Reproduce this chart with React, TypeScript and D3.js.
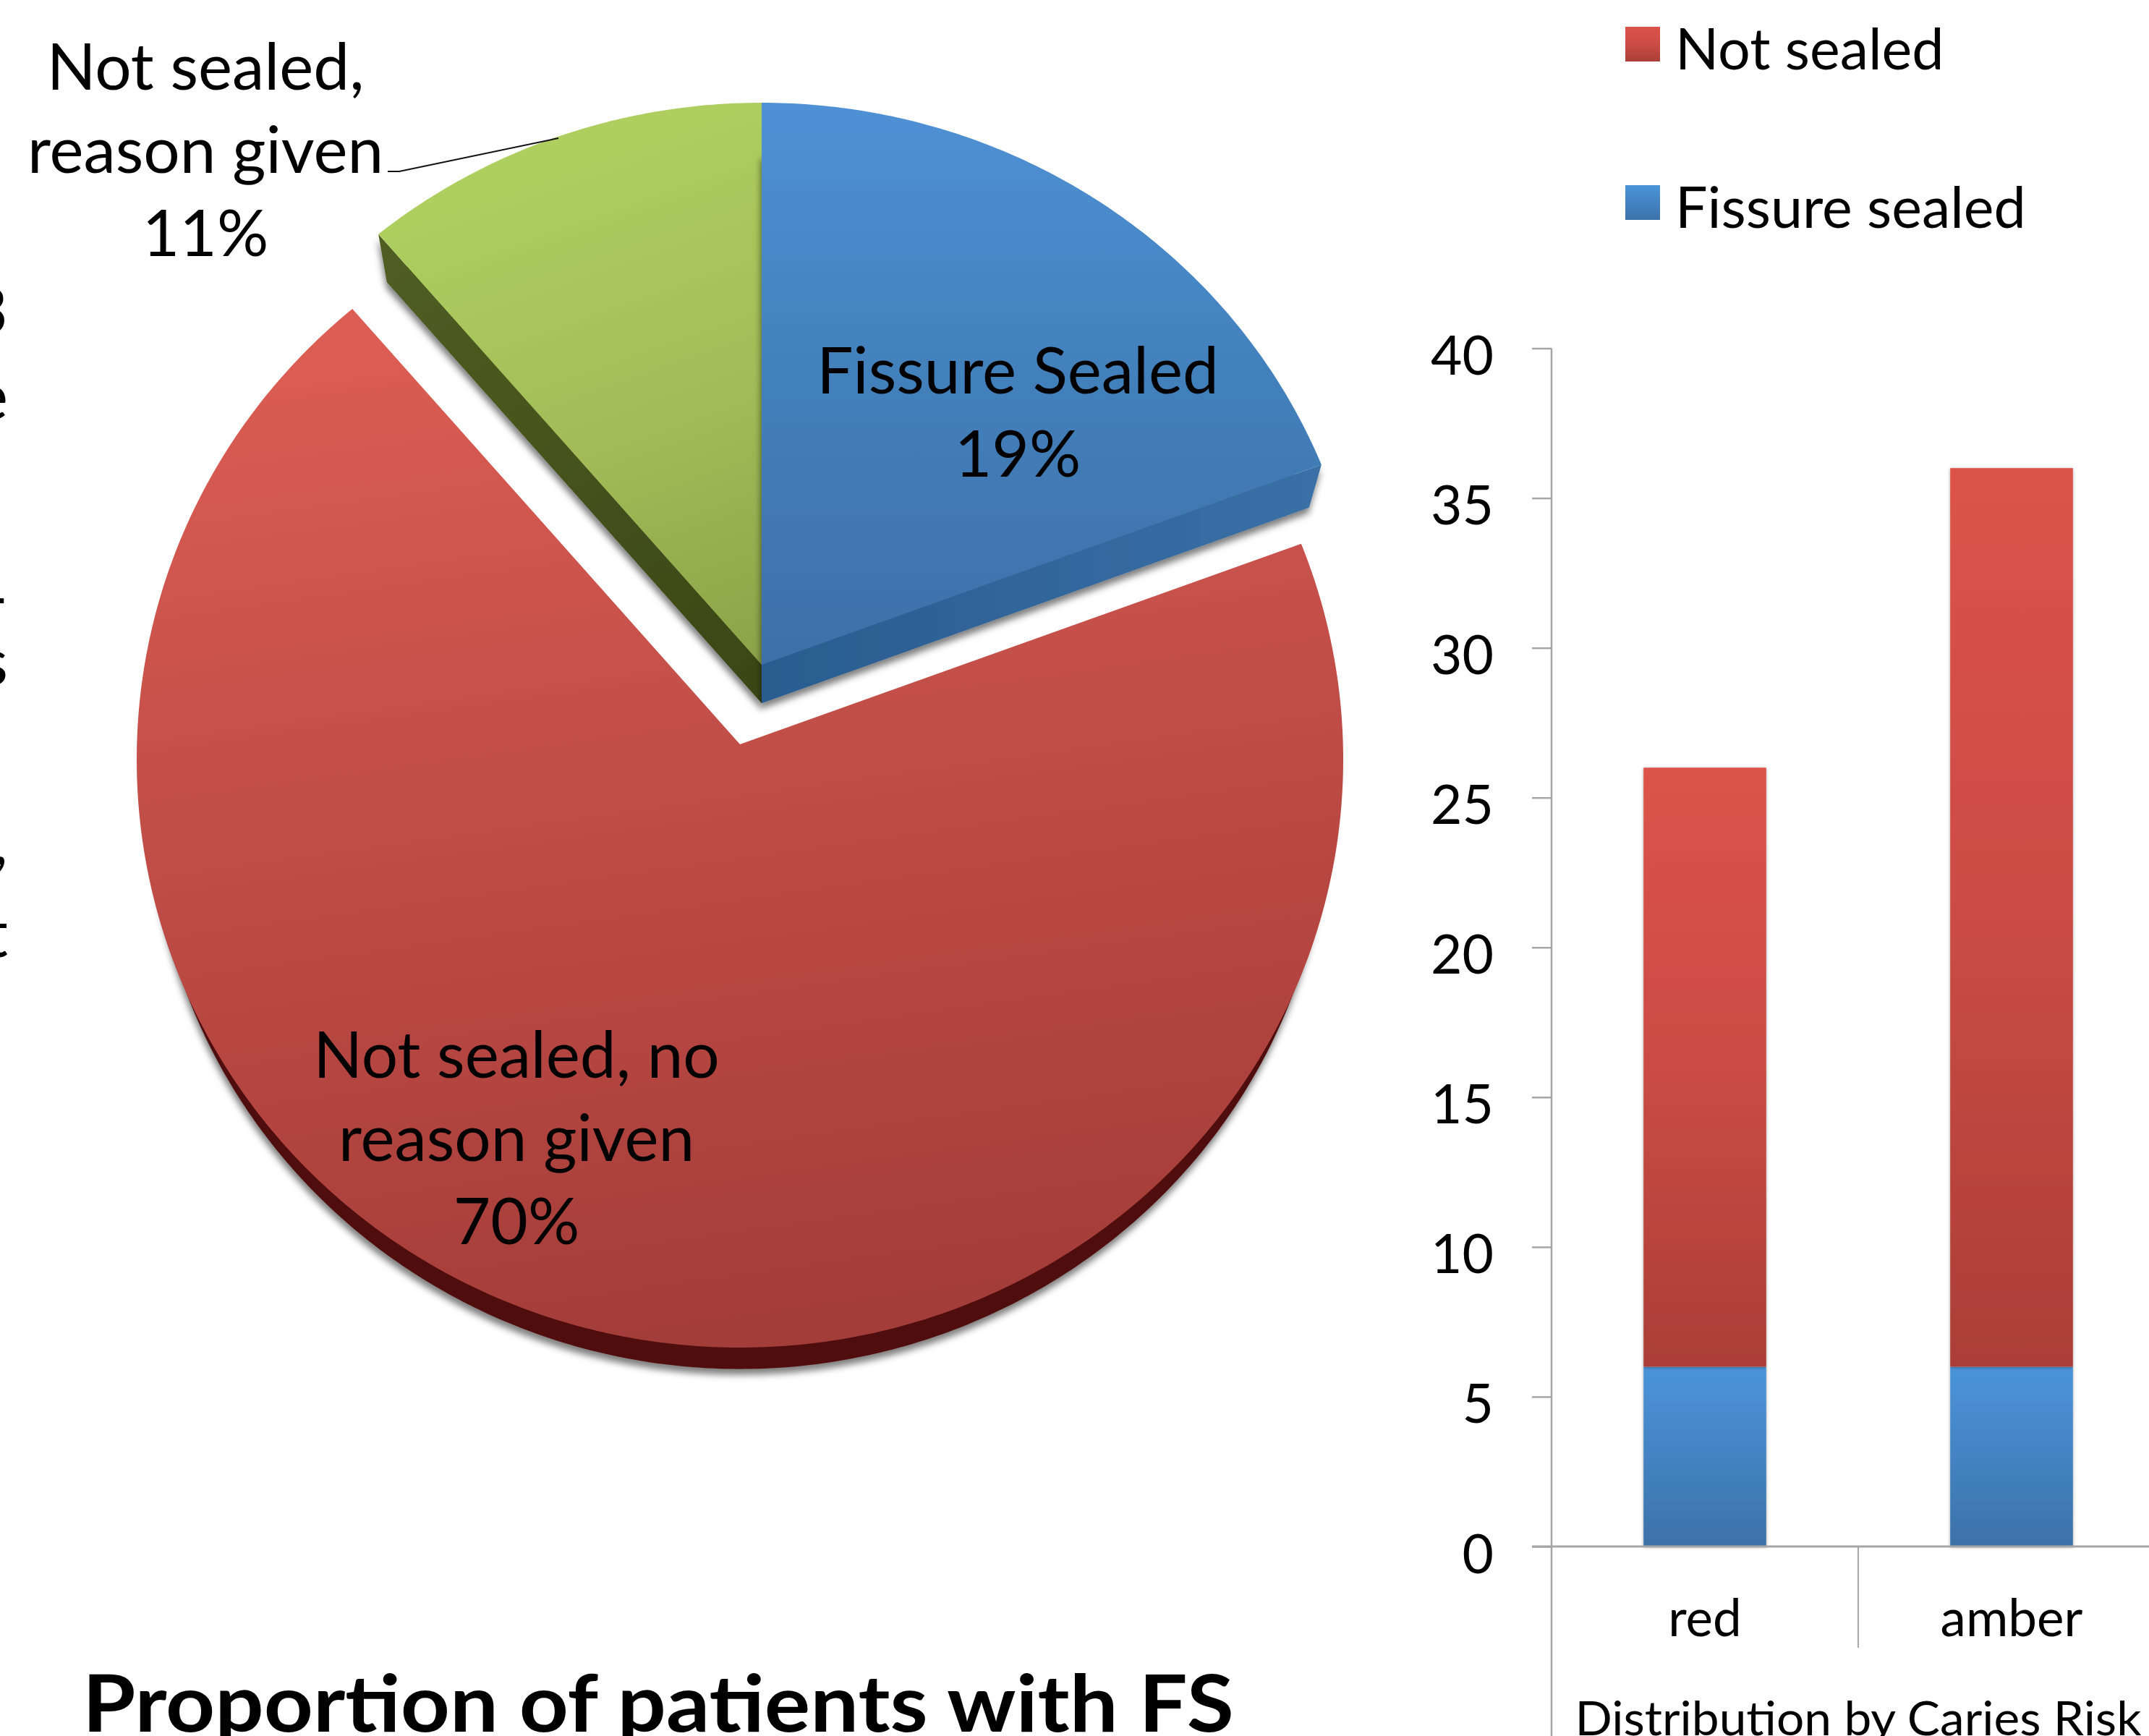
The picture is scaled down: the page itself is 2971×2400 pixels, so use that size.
import React, { useRef, useEffect } from 'react';
import * as d3 from 'd3';

// pie: share of patients, clockwise from 12 o'clock
const pieNames = ['fissure', 'noReason', 'reason'];
const pieValues = [19, 70, 11];
const pieLabelLines = [
  ['Fissure Sealed', '19%'],
  ['Not sealed, no', 'reason given', '70%'],
  ['Not sealed,', 'reason given', '11%'],
];

// stacked bars: caries risk groups
const riskGroups = ['red', 'amber'];
const fissureSealed = [6, 6];
const notSealed = [20, 30];
const yTicks = [0, 5, 10, 15, 20, 25, 30, 35, 40];
const legendLabels = ['Not sealed', 'Fissure sealed'];

const FONT = 'Lato, Carlito, sans-serif';

export default function App() {
  const svgRef = useRef<SVGSVGElement>(null);

  useEffect(() => {
    const svg = d3.select(svgRef.current);
    svg.selectAll('*').remove();

    const defs = svg.append('defs');
    const gradient = (id, stops, coords = { x1: '0', y1: '0', x2: '0', y2: '1' }, user = false) => {
      const g = defs.append('linearGradient').attr('id', id);
      Object.entries(coords).forEach(([k, v]) => g.attr(k, v));
      if (user) g.attr('gradientUnits', 'userSpaceOnUse');
      stops.forEach(([o, c]) => g.append('stop').attr('offset', o).attr('stop-color', c));
    };
    gradient('blueTop', [[0, '#4f91d5'], [0.5, '#4280bb'], [1, '#3f6fa8']], { x1: 1053, y1: 142, x2: 1053, y2: 919 }, true);
    gradient('greenTop', [[0, '#aecf60'], [0.5, '#a2bd58'], [1, '#8aa348']], { x1: 800, y1: 200, x2: 1053, y2: 919 }, true);
    gradient('redTop', [[0, '#dc5d53'], [0.38, '#c5504a'], [0.7, '#b54540'], [1, '#a33d39']], { x1: 700, y1: 430, x2: 900, y2: 1860 }, true);
    gradient('blueSide', [[0, '#2a5c90'], [1, '#3a70a6']], { x1: 1053, y1: 0, x2: 1823, y2: 0 }, true);
    gradient('greenSide', [[0, '#505e22'], [1, '#3b4717']], { x1: 525, y1: 326, x2: 1053, y2: 919 }, true);
    gradient('barRed', [[0, '#dc5349'], [0.5, '#cb4c45'], [1, '#ab3e38']]);
    gradient('barBlue', [[0, '#4b94da'], [0.5, '#4483c2'], [1, '#3a72a8']]);

    const shadow = defs.append('filter').attr('id', 'shadow')
      .attr('x', '-5%').attr('y', '-5%').attr('width', '110%').attr('height', '110%');
    shadow.append('feDropShadow').attr('dx', -1).attr('dy', 8).attr('stdDeviation', 5)
      .attr('flood-color', '#000').attr('flood-opacity', 0.5);
    const barShadow = defs.append('filter').attr('id', 'barShadow')
      .attr('x', '-5%').attr('y', '-5%').attr('width', '110%').attr('height', '110%');
    barShadow.append('feDropShadow').attr('dx', 0).attr('dy', 1).attr('stdDeviation', 2)
      .attr('flood-color', '#000').attr('flood-opacity', 0.35);

    // --- pie, drawn in perspective: slices sit on ellipses, the apex is off-centre
    const rx = 834;
    const slices = {
      fissure: { apex: [1053, 919], ry: 798, off: 21, top: 'url(#blueTop)', side: 'url(#blueSide)', depth: 53 },
      noReason: { apex: [1023, 1029], ry: 813, off: 21, top: 'url(#redTop)', side: '#4f110f', depth: 48 },
      reason: { apex: [1053, 919], ry: 798, off: 21, top: 'url(#greenTop)', side: 'url(#greenSide)', depth: 53 },
    };
    const rim = (a, s) => {
      // the tilt is not the same on both sides of the pie
      const tilt = a < Math.PI ? 1.108 : 1.076;
      const dx = tilt * Math.sin(a);
      const dy = -Math.cos(a);
      const A = (dx * dx) / (rx * rx) + (dy * dy) / (s.ry * s.ry);
      const B = (-2 * s.off * dy) / (s.ry * s.ry);
      const C = (s.off * s.off) / (s.ry * s.ry) - 1;
      const t = (-B + Math.sqrt(B * B - 4 * A * C)) / (2 * A);
      return [s.apex[0] + t * dx, s.apex[1] + t * dy];
    };
    const lower = (p, s) => [
      s.apex[0] + (p[0] - s.apex[0]) * 0.978,
      s.apex[1] + (p[1] - s.apex[1]) * 0.978 + s.depth,
    ];
    const line = d3.line();
    const arcs = d3.pie<number>().sort(null)(pieValues);

    // red first, then green, blue on top of both
    [1, 2, 0].forEach(i => {
      const arc = arcs[i];
      const s = slices[pieNames[i]];
      const angles = d3.range(arc.startAngle, arc.endAngle, 0.01).concat(arc.endAngle);
      const outline = angles.map(a => rim(a, s));
      const shape = [s.apex, ...outline];
      const g = svg.append('g');
      const under = g.append('g').attr('filter', 'url(#shadow)');
      under.append('path').attr('d', line(shape.map(p => lower(p, s))) + 'Z').attr('fill', s.side);
      if (pieNames[i] !== 'noReason') {
        // the cut face towards the viewer
        const edge = pieNames[i] === 'fissure' ? outline[outline.length - 1] : outline[0];
        under.append('path')
          .attr('d', line([s.apex, edge, lower(edge, s), lower(s.apex, s)]) + 'Z')
          .attr('fill', s.side);
      }
      g.append('path').attr('d', line(shape) + 'Z').attr('fill', s.top);
    });

    const labelPos = {
      fissure: { x: 1407, y: 544 },
      noReason: { x: 714, y: 1490 },
      reason: { x: 284, y: 124 },
    };
    pieNames.forEach((name, i) => {
      const t = svg.append('text')
        .attr('text-anchor', 'middle')
        .attr('font-family', FONT)
        .attr('font-size', 89)
        .attr('fill', '#000');
      pieLabelLines[i].forEach((l, j) => {
        t.append('tspan')
          .attr('x', labelPos[name].x)
          .attr('y', labelPos[name].y + j * 115)
          .text(l);
      });
    });

    // leader line for the green slice
    svg.append('path')
      .attr('d', line([[536, 237], [552, 237], [772, 191]]))
      .attr('fill', 'none').attr('stroke', '#111').attr('stroke-width', 2);

    // title, runs off the bottom of the image
    svg.append('text')
      .attr('x', 114).attr('y', 2394)
      .attr('font-family', FONT).attr('font-weight', 700).attr('font-size', 110)
      .attr('textLength', 1592).attr('lengthAdjust', 'spacingAndGlyphs')
      .text('Proportion of patients with FS');

    // ends of text lines that are cropped by the left edge
    [['3', 462], ['e', 580], ['-', 858], ['s', 947], [',', 1195], ['t', 1323]].forEach(([c, y]) => {
      svg.append('text')
        .attr('x', 11).attr('y', y).attr('text-anchor', 'end')
        .attr('font-family', FONT).attr('font-size', 92)
        .text(c);
    });

    // --- stacked bars
    const y = d3.scaleLinear().domain([0, 40]).range([2138, 481.5]);
    const x = d3.scaleBand().domain(riskGroups).range([2145, 2993]).paddingInner(0.6).paddingOuter(0.3);
    const table = riskGroups.map((g, i) => ({ group: g, fissureSealed: fissureSealed[i], notSealed: notSealed[i] }));
    const stacked = d3.stack().keys(['fissureSealed', 'notSealed'])(table);
    const fills = { fissureSealed: 'url(#barBlue)', notSealed: 'url(#barRed)' };
    const axisColor = '#a6a6a6';

    stacked.forEach(layer => {
      svg.append('g').selectAll('rect').data(layer).join('rect')
        .attr('x', d => x(d.data.group))
        .attr('y', d => y(d[1]))
        .attr('width', x.bandwidth())
        .attr('height', d => y(d[0]) - y(d[1]))
        .attr('fill', fills[layer.key])
        .attr('filter', 'url(#barShadow)');
    });

    const yAxis = svg.append('g')
      .attr('transform', 'translate(2145,0)')
      .call(d3.axisLeft(y).tickValues(yTicks).tickSize(27).tickSizeOuter(0).tickPadding(53));
    yAxis.select('.domain').remove();
    yAxis.selectAll('line').attr('stroke', axisColor).attr('stroke-width', 2.5);
    yAxis.selectAll('text')
      .attr('font-family', FONT).attr('font-size', 75).attr('fill', '#000').attr('dy', 36);

    // y axis line carries on under the category labels
    svg.append('line').attr('x1', 2145).attr('x2', 2145).attr('y1', y(40)).attr('y2', 2400)
      .attr('stroke', axisColor).attr('stroke-width', 2.5);
    svg.append('line').attr('x1', 2118).attr('x2', 2971).attr('y1', y(0)).attr('y2', y(0))
      .attr('stroke', axisColor).attr('stroke-width', 3);
    riskGroups.forEach((_, i) => {
      const sx = 2145 + x.step() * (i + 1);
      svg.append('line').attr('x1', sx).attr('x2', sx).attr('y1', y(0)).attr('y2', 2278)
        .attr('stroke', axisColor).attr('stroke-width', 2);
    });

    const xAxis = svg.append('g')
      .attr('transform', `translate(0,${y(0)})`)
      .call(d3.axisBottom(x).tickSize(0).tickPadding(0));
    xAxis.select('.domain').remove();
    xAxis.selectAll('text')
      .attr('font-family', FONT).attr('font-size', 71).attr('fill', '#000').attr('y', 124).attr('dy', 0);

    svg.append('text')
      .attr('x', 2569).attr('y', 2399).attr('text-anchor', 'middle')
      .attr('font-family', FONT).attr('font-size', 66)
      .attr('textLength', 783).attr('lengthAdjust', 'spacingAndGlyphs')
      .text('Distribution by Caries Risk');

    // legend
    const legendFills = ['url(#barRed)', 'url(#barBlue)'];
    const legendY = d3.scalePoint().domain(legendLabels).range([37, 256]);
    legendLabels.forEach((l, i) => {
      svg.append('rect').attr('x', 2247).attr('y', legendY(l)).attr('width', 48).attr('height', 48)
        .attr('fill', legendFills[i]);
      svg.append('text').attr('x', 2316).attr('y', legendY(l) + 59)
        .attr('font-family', FONT).attr('font-size', 79)
        .text(l);
    });
  }, []);

  return (
    <svg
      ref={svgRef}
      width={2971}
      height={2400}
      style={{ position: 'absolute', left: 0, top: 0, background: '#fff' }}
    />
  );
}
